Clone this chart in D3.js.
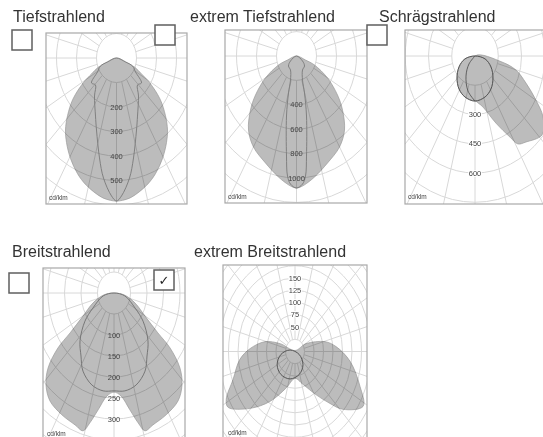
<!DOCTYPE html>
<html>
<head>
<meta charset="utf-8">
<script src="https://d3js.org/d3.v7.min.js"></script>
<style>
  body { margin: 0; background: #fff; }
  svg { display: block; filter: blur(0.4px); }
  text { font-family: "Liberation Sans", Arial, sans-serif; }
</style>
</head>
<body>
<div id="chart"></div>
<script>
(function () {

  const TITLES = ["Tiefstrahlend", "extrem Tiefstrahlend", "Schrägstrahlend", "Breitstrahlend", "extrem Breitstrahlend"];
  const UNIT = "cd/klm";

  // ring values of each diagram
  const RINGS_TIEF = [100, 200, 300, 400, 500, 600, 700, 800, 900];
  const RINGS_XTIEF = [200, 400, 600, 800, 1000, 1200, 1400, 1600, 1800];
  const RINGS_SCHRAEG = [150, 300, 450, 600, 750, 900, 1050, 1200];
  const RINGS_BREIT = [50, 100, 150, 200, 250, 300, 350, 400, 450];
  const RINGS_XBREIT = [25, 50, 75, 100, 125, 150, 175, 200, 225, 250, 275, 300];

  const LABELS_TIEF = [200, 300, 400, 500];
  const LABELS_XTIEF = [400, 600, 800, 1000];
  const LABELS_SCHRAEG = [300, 450, 600];
  const LABELS_BREIT = [100, 150, 200, 250, 300];
  const LABELS_XBREIT = [-50, -75, -100, -125, -150];

  // Curves as [lateral, downward] in cd/klm.
  // The half ones are mirrored around the vertical axis when drawn.
  const TIEF_OUTER = [[0, 0], [45, 16], [90, 37], [125, 65], [165, 100], [218, 168], [245, 236], [255, 294], [250, 345], [230, 410], [195, 472], [150, 520], [75, 568], [30, 581], [0, 584]];
  const TIEF_INNER = [[0, 0], [45, 16], [80, 33], [95, 57], [125, 102], [105, 110], [110, 155], [105, 237], [100, 294], [85, 408], [65, 490], [25, 563], [0, 584]];
  const XTIEF_OUTER = [[0, 0], [90, 33], [180, 74], [310, 180], [410, 320], [460, 443], [480, 607], [430, 746], [310, 877], [180, 992], [80, 1056], [30, 1077], [0, 1082]];
  const XTIEF_INNER = [[0, 0], [60, 41], [80, 82], [60, 115], [60, 197], [80, 303], [100, 492], [100, 820], [90, 984], [60, 1050], [0, 1082]];
  const SCHRAEG_OUTER = [[0, 0], [174, 31], [264, 72], [329, 139], [393, 226], [439, 313], [432, 405], [329, 441], [277, 451], [226, 416], [135, 344], [52, 262], [-13, 210]];
  const SCHRAEG_INNER = [[0, 0], [65, 15], [103, 56], [116, 113], [103, 169], [65, 210], [0, 231], [-65, 210], [-103, 169], [-116, 113], [-103, 56], [-65, 15]];
  const SCHRAEG_ARC = [[0, 0], [-39, 41], [-58, 103], [-45, 180], [0, 231]];
  const BREIT_OUTER = [[0, 0], [32, 5], [64, 24], [94, 55], [133, 95], [170, 131], [200, 179], [206, 219], [194, 257], [158, 290], [118, 314], [94, 328], [73, 309], [48, 278], [21, 245], [0, 236]];
  const BREIT_INNER = [[0, 0], [33, 7], [64, 36], [88, 67], [103, 114], [100, 150], [94, 186], [67, 219], [33, 233], [0, 233]];
  const XBREIT_OUTER = [[0, -2], [29, -16], [79, -20], [108, -10], [145, 20], [171, 71], [179, 112], [126, 118], [92, 106], [55, 88], [21, 67], [0, 55], [-24, 75], [-66, 102], [-118, 116], [-176, 114], [-181, 98], [-163, 57], [-145, 16], [-118, -6], [-79, -20], [-39, -16]];
  const XBREIT_INNER = [[-13, -3], [11, 6], [21, 27], [11, 47], [-13, 56], [-37, 47], [-47, 27], [-37, 6]];

  const mirror = half => half.concat(half.slice(1, -1).reverse().map(d => [-d[0], d[1]]));

  const W = 543, H = 437;
  const FILL = "#bcbcbc", GRID = "#d8d8d8";

  const svg = d3.select("#chart").append("svg")
    .attr("width", W)
    .attr("height", H);

  const panels = [
    { title: TITLES[0], tx: 13, ty: 22, frame: [46, 33, 187, 204], cx: 116.5, cy: 58, sx: 0.2, sy: 0.245, lineColor: "#808080",
      rings: RINGS_TIEF, labels: LABELS_TIEF, fills: [mirror(TIEF_OUTER)], lines: [mirror(TIEF_INNER)], ux: 49, uy: 200 },
    { title: TITLES[1], tx: 190, ty: 22, frame: [225, 30, 367, 203], cx: 296.5, cy: 56, sx: 0.1, sy: 0.122, lineColor: "#808080",
      rings: RINGS_XTIEF, labels: LABELS_XTIEF, fills: [mirror(XTIEF_OUTER)], lines: [mirror(XTIEF_INNER)], ux: 228, uy: 199 },
    { title: TITLES[2], tx: 379, ty: 22, frame: [405, 30, 560, 204], cx: 475, cy: 56, sx: 0.155, sy: 0.195, lineColor: "#555",
      rings: RINGS_SCHRAEG, labels: LABELS_SCHRAEG, fills: [SCHRAEG_OUTER, SCHRAEG_INNER], lines: [SCHRAEG_INNER], arc: SCHRAEG_ARC, halo: true, ux: 408, uy: 199 },
    { title: TITLES[3], tx: 12, ty: 257, frame: [43, 268, 185, 460], cx: 114, cy: 293, sx: 0.33, sy: 0.42, lineColor: "#777",
      rings: RINGS_BREIT, labels: LABELS_BREIT, fills: [mirror(BREIT_OUTER)], lines: [mirror(BREIT_INNER)], ux: 47, uy: 436 },
    { title: TITLES[4], tx: 194, ty: 257, frame: [223, 265, 367, 460], cx: 295, cy: 351.5, sx: 0.38, sy: 0.49, lineColor: "#555",
      rings: RINGS_XBREIT, labels: LABELS_XBREIT, fills: [XBREIT_OUTER], lines: [XBREIT_INNER], halo: true, ux: 228, uy: 435 }
  ];

  const closed = d3.line().curve(d3.curveCatmullRomClosed.alpha(0.5));
  const open = d3.line().curve(d3.curveCatmullRom.alpha(0.5));

  panels.forEach((p, i) => {
    const [x0, y0, x1, y1] = p.frame;

    // same cd/klm on both axes but the picture is squeezed sideways
    const x = d3.scaleLinear().domain([0, 100]).range([p.cx, p.cx + 100 * p.sx]);
    const y = d3.scaleLinear().domain([0, 100]).range([p.cy, p.cy + 100 * p.sy]);
    const toPx = c => c.map(d => [x(d[0]), y(d[1])]);

    svg.append("text")
      .attr("x", p.tx)
      .attr("y", p.ty)
      .style("font-size", "16px")
      .style("fill", "#333")
      .text(p.title);

    svg.append("clipPath")
      .attr("id", `clip-${i}`)
      .append("rect")
      .attr("x", x0)
      .attr("y", y0)
      .attr("width", x1 - x0)
      .attr("height", y1 - y0);

    const g = svg.append("g")
      .attr("clip-path", `url(#clip-${i})`)
      .style("isolation", "isolate");

    // Grid --------------------------------------------------------
    const grid = g.append("g")
      .attr("fill", "none")
      .attr("stroke", GRID)
      .attr("stroke-width", 1);

    grid.selectAll("ellipse")
      .data(p.rings)
      .enter()
      .append("ellipse")
      .attr("cx", x(0))
      .attr("cy", y(0))
      .attr("rx", d => x(d) - x(0))
      .attr("ry", d => y(d) - y(0));

    const inner = p.rings[0], outer = p.rings[p.rings.length - 1];
    grid.selectAll("line")
      .data(d3.range(0, 360, 15))
      .enter()
      .append("line")
      .attr("x1", a => x(inner * Math.sin(a * Math.PI / 180)))
      .attr("y1", a => y(inner * Math.cos(a * Math.PI / 180)))
      .attr("x2", a => x(outer * Math.sin(a * Math.PI / 180)))
      .attr("y2", a => y(outer * Math.cos(a * Math.PI / 180)));

    // Gray light distribution, multiplied over the grid so lines stay visible
    g.append("g")
      .style("mix-blend-mode", "multiply")
      .selectAll("path")
      .data(p.fills)
      .enter()
      .append("path")
      .attr("d", d => closed(toPx(d)))
      .attr("fill", FILL)
      .attr("stroke", "#999")
      .attr("stroke-width", 0.7);

    // Dark curves on top
    g.selectAll("path.curve")
      .data(p.lines)
      .enter()
      .append("path")
      .attr("class", "curve")
      .attr("d", d => closed(toPx(d)))
      .attr("fill", "none")
      .attr("stroke", p.lineColor)
      .attr("stroke-width", 1);

    if (p.arc) {
      g.append("path")
        .attr("d", open(toPx(p.arc)))
        .attr("fill", "none")
        .attr("stroke", p.lineColor)
        .attr("stroke-width", 0.9);
    }

    g.selectAll("text.value")
      .data(p.labels)
      .enter()
      .append("text")
      .attr("class", "value")
      .attr("x", x(0))
      .attr("y", d => y(d) + 2.5)
      .attr("text-anchor", "middle")
      .style("font-size", "7.5px")
      .style("fill", "#444")
      .style("paint-order", "stroke")
      .style("stroke", p.halo ? "#fff" : "none")
      .style("stroke-width", 2)
      .text(d => Math.abs(d));

    g.append("text")
      .attr("x", p.ux)
      .attr("y", p.uy)
      .style("font-size", "6.5px")
      .style("fill", "#444")
      .text(UNIT);

    // Frame
    svg.append("rect")
      .attr("x", x0)
      .attr("y", y0)
      .attr("width", x1 - x0)
      .attr("height", y1 - y0)
      .attr("fill", "none")
      .attr("stroke", "#a8a8a8")
      .attr("stroke-width", 1.2);
  });

  // Checkboxes -----------------------------------------------------
  const boxes = [
    { x: 12, y: 30, checked: false },
    { x: 155, y: 25, checked: false },
    { x: 367, y: 25, checked: false },
    { x: 9, y: 273, checked: false },
    { x: 154, y: 270, checked: true }
  ];

  boxes.forEach(b => {
    svg.append("rect")
      .attr("x", b.x)
      .attr("y", b.y)
      .attr("width", 20)
      .attr("height", 20)
      .attr("fill", "#fff")
      .attr("stroke", "#5f5f5f")
      .attr("stroke-width", 1.5);
    if (b.checked) {
      svg.append("text")
        .attr("x", b.x + 10)
        .attr("y", b.y + 15)
        .attr("text-anchor", "middle")
        .style("font-family", "'DejaVu Sans'")
        .style("font-size", "13px")
        .style("fill", "#222")
        .text("✓");
    }
  });

})();
</script>
</body>
</html>
